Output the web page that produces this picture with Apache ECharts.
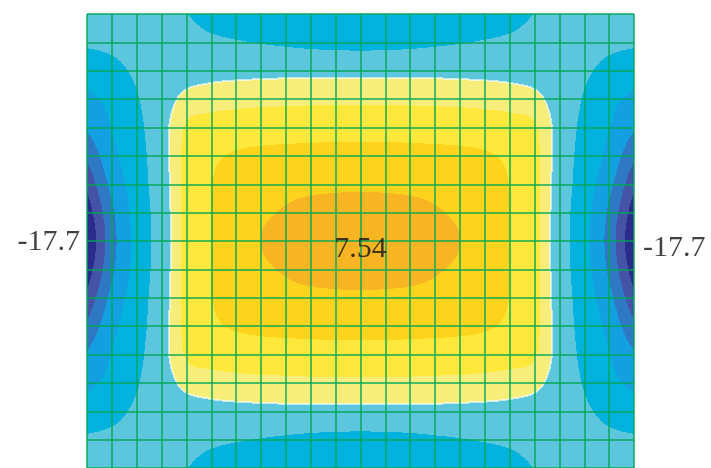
<!DOCTYPE html>
<html>
<head>
<meta charset="utf-8">
<script src="https://cdn.jsdelivr.net/npm/echarts@6/dist/echarts.min.js"></script>
<style>
  html, body { margin: 0; padding: 0; background: #fff; }
  #chart { width: 711px; height: 468px; }
</style>
</head>
<body>
<div id="chart"></div>
<script>
// Bending moment over a 22 x 16 plate mesh: values at the mesh nodes,
// one array per node row, top row first (23 nodes per row).
const r00 = [-1.5, -1.8, -2.1, -2.5, -2.93, -3.5, -4.0, -4.4, -4.7, -4.9, -5.0, -5.0, -5.0, -4.9, -4.7, -4.4, -4.0, -3.5, -2.93, -2.5, -2.1, -1.8, -1.5];
const r01 = [-2.6, -2.5, -2.4, -2.35, -2.4, -2.6, -2.8, -3.05, -3.3, -3.55, -3.7, -3.75, -3.7, -3.55, -3.3, -3.05, -2.8, -2.6, -2.4, -2.35, -2.4, -2.5, -2.6];
const r02 = [-4.6, -3.6, -2.6, -1.8, -1.2, -0.85, -0.7, -0.65, -0.6, -0.6, -0.6, -0.61, -0.6, -0.6, -0.6, -0.65, -0.7, -0.85, -1.2, -1.8, -2.6, -3.6, -4.6];
const r03 = [-6.6, -5.1, -3.15, -1.3, 0.65, 1.1, 1.3, 1.4, 1.45, 1.5, 1.5, 1.5, 1.5, 1.5, 1.45, 1.4, 1.3, 1.1, 0.65, -1.3, -3.15, -5.1, -6.6];
const r04 = [-8.56, -5.8, -3.7, -1.0, 2.1, 2.6, 2.8, 2.95, 3.0, 3.05, 3.08, 3.08, 3.08, 3.05, 3.0, 2.95, 2.8, 2.6, 2.1, -1.0, -3.7, -5.8, -8.56];
const r05 = [-11.26, -6.7, -4.05, -1.2, 2.5, 3.45, 3.95, 4.15, 4.25, 4.3, 4.35, 4.35, 4.35, 4.3, 4.25, 4.15, 3.95, 3.45, 2.5, -1.2, -4.05, -6.7, -11.26];
const r06 = [-14.0, -8.0, -4.4, -1.3, 2.6, 3.75, 4.45, 4.9, 5.1, 5.15, 5.2, 5.2, 5.2, 5.15, 5.1, 4.9, 4.45, 3.75, 2.6, -1.3, -4.4, -8.0, -14.0];
const r07 = [-16.4, -9.4, -4.75, -1.55, 2.6, 3.8, 4.7, 5.35, 5.85, 6.4, 6.8, 6.95, 6.8, 6.4, 5.85, 5.35, 4.7, 3.8, 2.6, -1.55, -4.75, -9.4, -16.4];
const r08 = [-17.7, -10.0, -4.9, -1.6, 2.6, 3.8, 4.75, 5.68, 6.5, 7.08, 7.42, 7.54, 7.42, 7.08, 6.5, 5.68, 4.75, 3.8, 2.6, -1.6, -4.9, -10.0, -17.7];
const r09 = [-16.4, -9.4, -4.75, -1.55, 2.6, 3.8, 4.7, 5.35, 5.85, 6.4, 6.8, 6.95, 6.8, 6.4, 5.85, 5.35, 4.7, 3.8, 2.6, -1.55, -4.75, -9.4, -16.4];
const r10 = [-14.0, -8.0, -4.4, -1.3, 2.6, 3.75, 4.45, 4.9, 5.1, 5.15, 5.2, 5.2, 5.2, 5.15, 5.1, 4.9, 4.45, 3.75, 2.6, -1.3, -4.4, -8.0, -14.0];
const r11 = [-11.26, -6.7, -4.05, -1.2, 2.5, 3.45, 3.95, 4.15, 4.25, 4.3, 4.35, 4.35, 4.35, 4.3, 4.25, 4.15, 3.95, 3.45, 2.5, -1.2, -4.05, -6.7, -11.26];
const r12 = [-8.56, -5.8, -3.7, -1.0, 2.1, 2.6, 2.8, 2.95, 3.0, 3.05, 3.08, 3.08, 3.08, 3.05, 3.0, 2.95, 2.8, 2.6, 2.1, -1.0, -3.7, -5.8, -8.56];
const r13 = [-6.6, -5.1, -3.15, -1.3, 0.65, 1.1, 1.3, 1.4, 1.45, 1.5, 1.5, 1.5, 1.5, 1.5, 1.45, 1.4, 1.3, 1.1, 0.65, -1.3, -3.15, -5.1, -6.6];
const r14 = [-4.6, -3.6, -2.6, -1.8, -1.2, -0.85, -0.7, -0.65, -0.6, -0.6, -0.6, -0.61, -0.6, -0.6, -0.6, -0.65, -0.7, -0.85, -1.2, -1.8, -2.6, -3.6, -4.6];
const r15 = [-2.6, -2.5, -2.4, -2.35, -2.4, -2.6, -2.8, -3.05, -3.3, -3.55, -3.7, -3.75, -3.7, -3.55, -3.3, -3.05, -2.8, -2.6, -2.4, -2.35, -2.4, -2.5, -2.6];
const r16 = [-1.5, -1.8, -2.1, -2.5, -2.93, -3.5, -4.0, -4.4, -4.7, -4.9, -5.0, -5.0, -5.0, -4.9, -4.7, -4.4, -4.0, -3.5, -2.93, -2.5, -2.1, -1.8, -1.5];

// Contour band limits
const levels = [-17.7, -14.75, -11.8, -8.85, -5.9, -2.95, 0, 1.885, 3.77, 5.655, 7.54];

// Labelled extremes as [node column, node row]
const labelNodes = [[0, 8], [22, 8], [11, 8]];

const field = [r00, r01, r02, r03, r04, r05, r06, r07, r08, r09, r10, r11, r12, r13, r14, r15, r16];
const NX = field[0].length;   // 23 node columns
const NY = field.length;      // 17 node rows

const bandColors = ['#2c2b8b', '#4453a6', '#2f78c4', '#149fe1', '#04b2de',
                    '#5cc6dc', '#f6ed7b', '#fde83b', '#fdd31e', '#f7b423'];
const zeroLineColor = 'rgba(255, 255, 255, 0.6)';
const meshColor = 'rgba(0, 165, 85, 0.7)';
const ZERO_BAND = levels.indexOf(0);   // first band above zero

// Node value with linear extension one node past each edge
function node(j, i) {
  if (j < 0) return 2 * node(0, i) - node(1, i);
  if (j > NY - 1) return 2 * node(NY - 1, i) - node(NY - 2, i);
  const row = field[j];
  if (i < 0) return 2 * row[0] - row[1];
  if (i > NX - 1) return 2 * row[NX - 1] - row[NX - 2];
  return row[i];
}

function catmull(p0, p1, p2, p3, t) {
  return 0.5 * (2 * p1 + (p2 - p0) * t +
    (2 * p0 - 5 * p1 + 4 * p2 - p3) * t * t +
    (3 * p1 - p0 - 3 * p2 + p3) * t * t * t);
}

// Smooth bicubic value of the nodal field at mesh coordinates (fx, fy)
function valueAt(fx, fy) {
  const i = Math.max(0, Math.min(Math.floor(fx), NX - 2));
  const j = Math.max(0, Math.min(Math.floor(fy), NY - 2));
  const tx = fx - i, ty = fy - j;
  const c = [];
  for (let m = -1; m <= 2; m++) {
    c.push(catmull(node(j + m, i - 1), node(j + m, i), node(j + m, i + 1), node(j + m, i + 2), tx));
  }
  return catmull(c[0], c[1], c[2], c[3], ty);
}

function bandOf(v) {
  for (let k = 1; k < levels.length - 1; k++) {
    if (v < levels[k]) return k - 1;
  }
  return levels.length - 2;
}

function rectPath(x, y, w) {
  return 'M' + x + ' ' + y + 'H' + (x + w) + 'V' + (y + 1) + 'H' + x + 'Z';
}

// Filled contour bands, built as one path of pixel runs per band,
// plus a pale trace along the zero contour
function renderBands(params, api) {
  const a = api.coord([0, 0]);
  const b = api.coord([NX - 1, NY - 1]);
  const H = api.getHeight();
  const x0 = Math.round(a[0]), x1 = Math.round(b[0]);
  const top = Math.round(Math.min(a[1], b[1]));
  const bottom = Math.min(Math.round(Math.max(a[1], b[1])), H);
  const runs = bandColors.map(() => []);
  const zero = [];
  let prevRow = null;
  for (let py = top; py < bottom; py++) {
    const fy = (py + 0.5 - a[1]) / (b[1] - a[1]) * (NY - 1);
    const row = new Int8Array(x1 - x0);
    let start = x0, band = -1;
    for (let px = x0; px < x1; px++) {
      const fx = (px + 0.5 - a[0]) / (b[0] - a[0]) * (NX - 1);
      const k = bandOf(valueAt(fx, fy));
      row[px - x0] = k;
      if (k !== band) {
        if (band >= 0) runs[band].push(rectPath(start, py, px - start));
        if ((band === ZERO_BAND - 1 && k === ZERO_BAND) || (band === ZERO_BAND && k === ZERO_BAND - 1)) {
          zero.push(rectPath(px - 1, py, 2));
        }
        start = px; band = k;
      }
      if (prevRow) {
        const u = prevRow[px - x0];
        if ((u === ZERO_BAND - 1 && k === ZERO_BAND) || (u === ZERO_BAND && k === ZERO_BAND - 1)) {
          zero.push(rectPath(px, py - 1, 1) + rectPath(px, py, 1));
        }
      }
    }
    runs[band].push(rectPath(start, py, x1 - start));
    prevRow = row;
  }
  const children = runs.map((r, k) => ({
    type: 'path',
    shape: { pathData: r.join('') },
    style: { fill: bandColors[k], stroke: null }
  }));
  children.push({
    type: 'path',
    shape: { pathData: zero.join('') },
    style: { fill: zeroLineColor, stroke: null }
  });
  return { type: 'group', children };
}

const labelFont = "'Liberation Serif', 'Times New Roman', serif";
const labelPlacement = [
  { position: 'left', distance: 7, offset: [0, 1] },
  { position: 'right', distance: 9, offset: [0, 7] },
  { position: 'inside', offset: [0, 8] }
];

const chart = echarts.init(document.getElementById('chart'), null, { renderer: 'canvas' });
chart.setOption({
  animation: false,
  backgroundColor: '#ffffff',
  grid: { left: 87, top: 14, width: 547, height: 459, containLabel: false },
  xAxis: {
    type: 'value', min: 0, max: NX - 1, interval: 1, z: 10,
    axisLine: { show: false }, axisTick: { show: false }, axisLabel: { show: false },
    splitLine: { show: true, lineStyle: { color: meshColor, width: 2 } }
  },
  yAxis: {
    type: 'value', min: 0, max: NY - 1, interval: 1, inverse: true, z: 10,
    axisLine: { show: false }, axisTick: { show: false }, axisLabel: { show: false },
    splitLine: { show: true, lineStyle: { color: meshColor, width: 2 } }
  },
  series: [
    {
      type: 'custom',
      coordinateSystem: 'cartesian2d',
      silent: true,
      z: 1,
      clip: false,
      data: [[0, 0]],
      renderItem: renderBands
    },
    {
      type: 'scatter',
      silent: true,
      z: 20,
      symbolSize: 0.1,
      itemStyle: { color: 'rgba(0,0,0,0)' },
      data: labelNodes.map(([i, j], n) => ({
        value: [i, j, field[j][i]],
        label: Object.assign({
          show: true,
          formatter: p => String(p.value[2]),
          color: '#111111',
          fontFamily: labelFont,
          fontSize: 30
        }, labelPlacement[n])
      }))
    }
  ]
});
</script>
</body>
</html>
